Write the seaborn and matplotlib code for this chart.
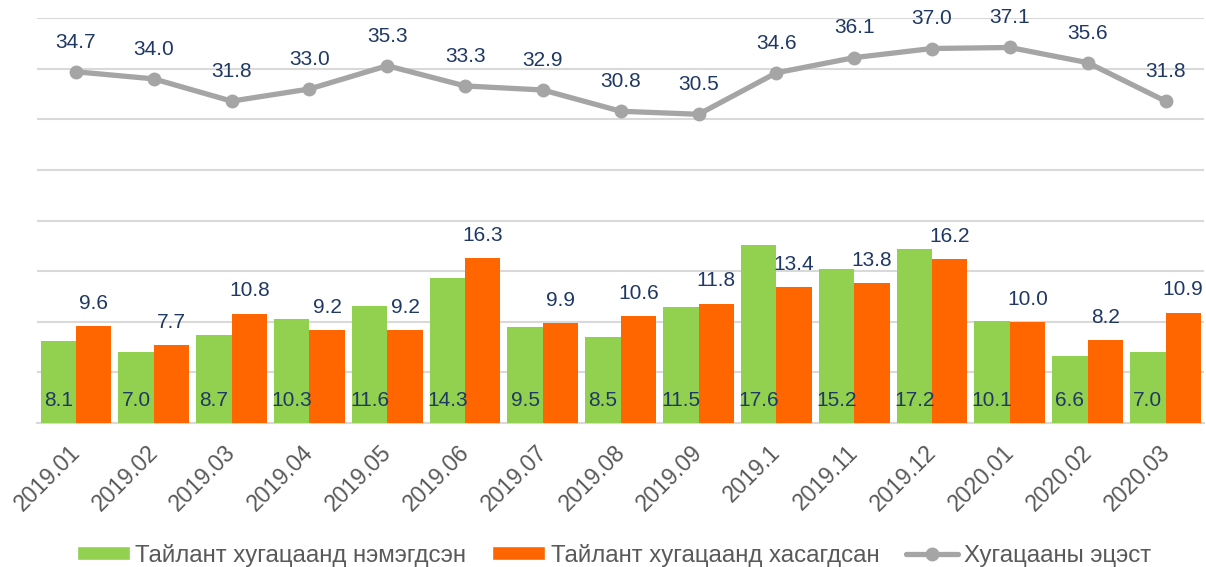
import numpy as np
import pandas as pd
import matplotlib
matplotlib.use("Agg")
import matplotlib.pyplot as plt
import matplotlib.transforms as mtransforms
import seaborn as sns
from matplotlib.patches import Patch
from matplotlib.lines import Line2D

months = ["2019.01", "2019.02", "2019.03", "2019.04", "2019.05", "2019.06", "2019.07",
          "2019.08", "2019.09", "2019.1", "2019.11", "2019.12", "2020.01", "2020.02", "2020.03"]
added = [8.1, 7.0, 8.7, 10.3, 11.6, 14.3, 9.5, 8.5, 11.5, 17.6, 15.2, 17.2, 10.1, 6.6, 7.0]
removed = [9.6, 7.7, 10.8, 9.2, 9.2, 16.3, 9.9, 10.6, 11.8, 13.4, 13.8, 16.2, 10.0, 8.2, 10.9]
balance = [34.7, 34.0, 31.8, 33.0, 35.3, 33.3, 32.9, 30.8, 30.5, 34.6, 36.1, 37.0, 37.1, 35.6, 31.8]

name_add = "Тайлант хугацаанд нэмэгдсэн"
name_rem = "Тайлант хугацаанд хасагдсан"
name_bal = "Хугацааны эцэст"

c_green = "#92D050"
c_orange = "#FF6600"
c_line = "#A5A5A5"
c_label = "#1F3864"
c_tick = "#595959"
c_grid = "#D9D9D9"

sns.set_style("white")
plt.rcParams["font.family"] = ["Liberation Sans", "DejaVu Sans"]

df = pd.DataFrame({
    "month": months * 2,
    "value": added + removed,
    "series": [name_add] * len(months) + [name_rem] * len(months),
})

fig = plt.figure(figsize=(12.06, 5.67), dpi=100)
ax = fig.add_axes([0.0307, 0.254, 0.968, 0.714])

sns.barplot(data=df, x="month", y="value", hue="series", order=months,
            palette=[c_green, c_orange], saturation=1, width=0.91, linewidth=0,
            ax=ax, legend=False, zorder=3)

x = np.arange(len(months))
sns.lineplot(x=x, y=balance, color=c_line, linewidth=3.8, marker="o",
             markersize=10, markeredgewidth=0, ax=ax, zorder=4)

# data labels
bw = 0.91 / 2
for i in range(len(months)):
    ax.annotate(f"{added[i]:.1f}", (i - bw / 2, 0), xytext=(0, 16),
                textcoords="offset points", ha="center", va="center",
                fontsize=15, color=c_label, zorder=5)
    ax.annotate(f"{removed[i]:.1f}", (i + bw / 2, removed[i]), xytext=(0, 9.5),
                textcoords="offset points", ha="center", va="bottom",
                fontsize=15, color=c_label, zorder=5)
    ax.annotate(f"{balance[i]:.1f}", (i, balance[i]), xytext=(0, 14.5),
                textcoords="offset points", ha="center", va="bottom",
                fontsize=15, color=c_label, zorder=5)

ax.set_xlim(-0.5, len(months) - 0.5)
ax.set_ylim(0, 40)
ax.set_yticks(np.arange(0, 41, 5))
ax.yaxis.grid(True, color=c_grid, linewidth=1.5, zorder=0)
ax.set_axisbelow(True)
ax.tick_params(axis="y", left=False, labelleft=False)
ax.tick_params(axis="x", bottom=False, pad=15, labelsize=16.5, labelcolor=c_tick)
shift = mtransforms.ScaledTranslation(0.5 / 72, 0, fig.dpi_scale_trans)
for lab in ax.get_xticklabels():
    lab.set_rotation(45)
    lab.set_ha("right")
    lab.set_va("center")
    lab.set_rotation_mode("anchor")
    lab.set_transform(lab.get_transform() + shift)
ax.set_xlabel("")
ax.set_ylabel("")
for s in ["left", "right", "top"]:
    ax.spines[s].set_visible(False)
ax.spines["bottom"].set_color(c_grid)
ax.spines["bottom"].set_linewidth(1.5)

handles = [
    Patch(facecolor=c_green, label=name_add),
    Patch(facecolor=c_orange, label=name_rem),
    Line2D([0], [0], color=c_line, linewidth=3.8, marker="o", markersize=10,
           markeredgewidth=0, label=name_bal),
]
fig.legend(handles=handles, loc="center", bbox_to_anchor=(0.509, 0.021),
           ncol=3, frameon=False, fontsize=17.3, labelcolor=c_tick,
           handlelength=2.2, handleheight=0.55, handletextpad=0.22,
           columnspacing=1.1, borderpad=0)

fig.savefig("out.png", dpi=100)
